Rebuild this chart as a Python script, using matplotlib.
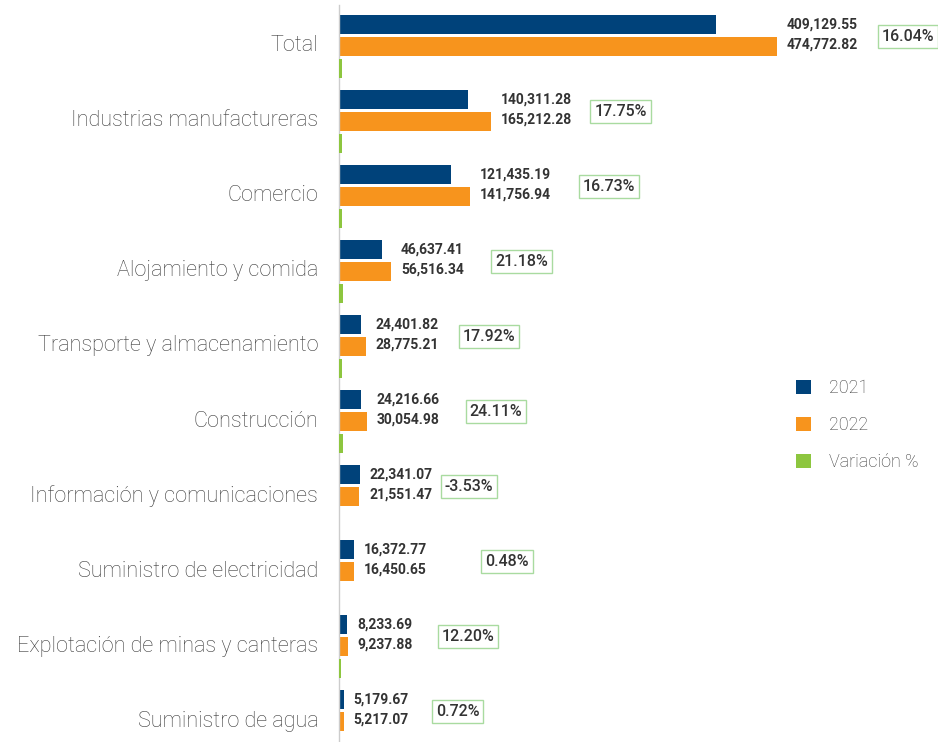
import matplotlib
matplotlib.use("Agg")
import matplotlib.pyplot as plt
import numpy as np

categories = ["Total", "Industrias manufactureras", "Comercio", "Alojamiento y comida",
              "Transporte y almacenamiento", "Construcción", "Información y comunicaciones",
              "Suministro de electricidad", "Explotación de minas y canteras", "Suministro de agua"]
v2021 = [409129.55, 140311.28, 121435.19, 46637.41, 24401.82, 24216.66, 22341.07, 16372.77, 8233.69, 5179.67]
v2022 = [474772.82, 165212.28, 141756.94, 56516.34, 28775.21, 30054.98, 21551.47, 16450.65, 9237.88, 5217.07]
variacion = [16.04, 17.75, 16.73, 21.18, 17.92, 24.11, -3.53, 0.48, 12.20, 0.72]
series_names = ["2021", "2022", "Variación %"]

# layout (pixels from the longer bar end to the variation box)
box_gap_px = [101, 99, 109, 100, 93, 99, 81, 127, 90, 88]

C21 = "#00427a"
C22 = "#f7941d"
CVAR = "#8dc63f"
TXT = "#3c3c3c"

plt.rcParams["font.family"] = ["Roboto", "DejaVu Sans"]

fig = plt.figure(figsize=(9.38, 7.42), dpi=100)
W, H = 938, 742
ax = fig.add_axes([339 / W, 0, (938 - 339) / W, 1 - 5 / H])

n = len(categories)
y = np.arange(n)
off = 0.293
bh = 0.253
ylim = (n - 1 + 0.273, -0.553)

ax.barh(y - off, v2021, height=bh, color=C21, label=series_names[0])
ax.barh(y, v2022, height=bh, color=C22, label=series_names[1])
ax.set_xlim(0, 650000)
ax.set_ylim(*ylim)

ax2 = ax.twiny()
ax2.barh(y + off, variacion, height=bh, color=CVAR, label=series_names[2])
ax2.set_xlim(0, 3500)
ax2.set_ylim(*ylim)
ax2.axis("off")

for s in ["top", "right", "bottom"]:
    ax.spines[s].set_visible(False)
ax.spines["left"].set_color("#cccccc")
ax.spines["left"].set_linewidth(1)
ax.set_xticks([])
ax.set_yticks(y - 0.04)
ax.set_yticklabels(categories, fontsize=15.6, color=TXT, fontweight="light")
ax.tick_params(axis="y", length=0, pad=15)

for i in range(n):
    xend = max(v2021[i], v2022[i])
    ax.annotate(f"{v2021[i]:,.2f}", xy=(xend, y[i] - off), xytext=(10, 0),
                textcoords="offset pixels", ha="left", va="center",
                fontsize=10, fontweight="bold", color="#333333")
    ax.annotate(f"{v2022[i]:,.2f}", xy=(xend, y[i]), xytext=(10, 2),
                textcoords="offset pixels", ha="left", va="center",
                fontsize=10, fontweight="bold", color="#333333")
    ax.annotate(f"{variacion[i]:.2f}%", xy=(xend, y[i] - 0.13), xytext=(box_gap_px[i] + 4, 0),
                textcoords="offset pixels", ha="left", va="center",
                fontsize=11.5, fontweight="medium", color="#333333",
                bbox=dict(boxstyle="square,pad=0.25", fc="white", ec="#a9dba0", lw=1))

h1, l1 = ax.get_legend_handles_labels()
h2, l2 = ax2.get_legend_handles_labels()
leg = ax.legend(h1 + h2, l1 + l2, loc="center left", bbox_to_anchor=(780 / W, 1 - 425 / H),
                bbox_transform=fig.transFigure, frameon=False, fontsize=13,
                handlelength=0.8, handleheight=0.8, handletextpad=1.0, labelspacing=1.05,
                labelcolor=TXT)
for t in leg.get_texts():
    t.set_fontweight("light")

fig.savefig("out.png", dpi=100)
